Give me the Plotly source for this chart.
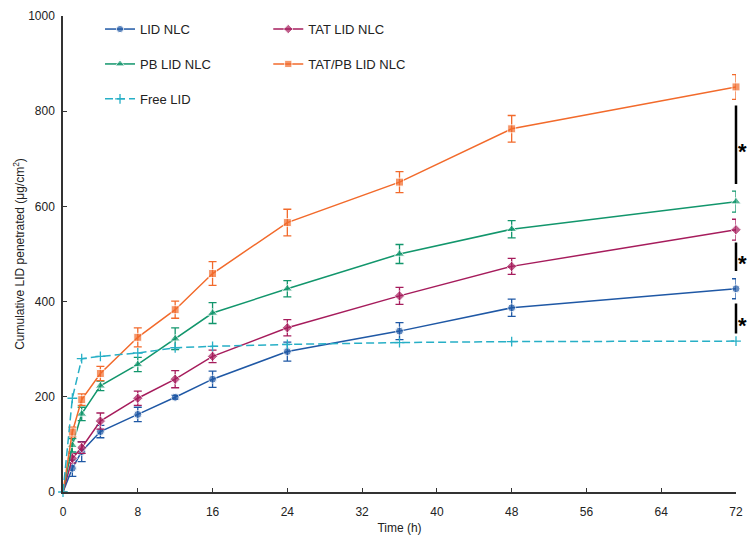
import plotly.graph_objects as go

# time points (h)
time_h = [0, 1, 2, 4, 8, 12, 16, 24, 36, 48, 72]

lid_nlc = [0, 50, 85, 127, 163, 199, 237, 295, 338, 387, 427]
lid_nlc_err = [0, 17, 21, 13, 15, 4, 17, 20, 18, 18, 21]

tat_lid_nlc = [0, 71, 93, 149, 197, 237, 285, 345, 412, 474, 551]
tat_lid_nlc_err = [0, 10, 12, 17, 15, 18, 13, 17, 18, 17, 22]

pb_lid_nlc = [0, 98, 164, 223, 268, 322, 376, 427, 500, 552, 610]
pb_lid_nlc_err = [0, 14, 14, 10, 15, 23, 22, 17, 20, 18, 22]

tat_pb_lid_nlc = [0, 126, 194, 249, 325, 383, 459, 566, 651, 763, 851]
tat_pb_lid_nlc_err = [0, 10, 12, 15, 20, 18, 25, 28, 22, 28, 26]

free_lid = [0, 197, 280, 285, 292, 303, 306, 310, 314, 316, 317]

# significance brackets at 72 h
sig_low = [644, 461, 330]
sig_high = [812, 524, 396]
sig_label = ["*", "*", "*"]

FONT = "Liberation Sans, Arial, sans-serif"

series = [
    ("LID NLC", lid_nlc, lid_nlc_err, "#1F58A5", "circle", 8, "legend"),
    ("TAT LID NLC", tat_lid_nlc, tat_lid_nlc_err, "#A61C5C", "diamond", 8, "legend2"),
    ("PB LID NLC", pb_lid_nlc, pb_lid_nlc_err, "#12966C", "triangle-up", 9, "legend"),
    ("TAT/PB LID NLC", tat_pb_lid_nlc, tat_pb_lid_nlc_err, "#F26A2B", "square", 8, "legend2"),
]

fig = go.Figure()

for name, vals, errs, color, symbol, size, leg in series:
    # no marker drawn at the origin point
    sizes = [0] + [size] * (len(vals) - 1)
    fig.add_trace(go.Scatter(
        x=time_h, y=vals, name=name, mode="lines+markers",
        line=dict(color=color, width=1.5),
        marker=dict(symbol=symbol, size=sizes, color=color),
        error_y=dict(type="data", array=errs, color=color, thickness=1.3, width=4),
        legend=leg, legendgroup=name, cliponaxis=False,
    ))

fig.add_trace(go.Scatter(
    x=time_h, y=free_lid, name="Free LID", mode="lines+markers",
    line=dict(color="#27AFC6", width=1.5, dash="8px,4px"),
    marker=dict(symbol="cross-thin", size=7, color="#27AFC6",
                line=dict(color="#27AFC6", width=1.3)),
    legend="legend", legendgroup="Free LID", cliponaxis=False,
))

# significance bars: arrow-less annotations so they are not clipped at the plot edge
for lo, hi, lab in zip(sig_low, sig_high, sig_label):
    fig.add_annotation(
        x=time_h[-1], y=hi, ax=time_h[-1], ay=lo, axref="x", ayref="y",
        text="", showarrow=True, arrowhead=0, arrowwidth=2.5,
        arrowcolor="black", standoff=0, startstandoff=0,
    )
    fig.add_annotation(
        x=time_h[-1], y=(lo + hi) / 2, text="<b>" + lab + "</b>", showarrow=False,
        xanchor="center", xshift=6, yshift=-6,
        font=dict(size=22, color="black", family=FONT),
    )

axis_common = dict(
    showline=True, linecolor="#333333", linewidth=1.5,
    ticks="inside", ticklen=4, tickcolor="#333333", tickwidth=1.2,
    showgrid=False, zeroline=False, automargin=False,
    tickfont=dict(size=12, color="#222222", family=FONT),
    title_font=dict(size=12, color="#222222", family=FONT),
)

# page body adds an 8px offset, so the figure is sized to fit the window
fig.update_layout(
    width=747, height=536,
    margin=dict(l=55, r=19, t=6, b=52),
    paper_bgcolor="white", plot_bgcolor="white",
    font=dict(family=FONT, color="#222222"),
    xaxis=dict(range=[0, 72], dtick=8, ticklabelstandoff=8,
               title=dict(text="Time (h)", standoff=5),
               **axis_common),
    yaxis=dict(range=[0, 1000], dtick=200, ticklabelstandoff=4,
               title=dict(text="Cumulative LID penetrated (μg/cm<sup>2</sup>)", standoff=1),
               **axis_common),
    legend=dict(x=0.055, y=1.004, xanchor="left", yanchor="top",
                bgcolor="rgba(0,0,0,0)", tracegroupgap=15,
                font=dict(size=13, color="#222222", family=FONT)),
    legend2=dict(x=0.305, y=1.004, xanchor="left", yanchor="top",
                 bgcolor="rgba(0,0,0,0)", tracegroupgap=15,
                 font=dict(size=13, color="#222222", family=FONT)),
    showlegend=True,
)

fig.write_html("out.html")
